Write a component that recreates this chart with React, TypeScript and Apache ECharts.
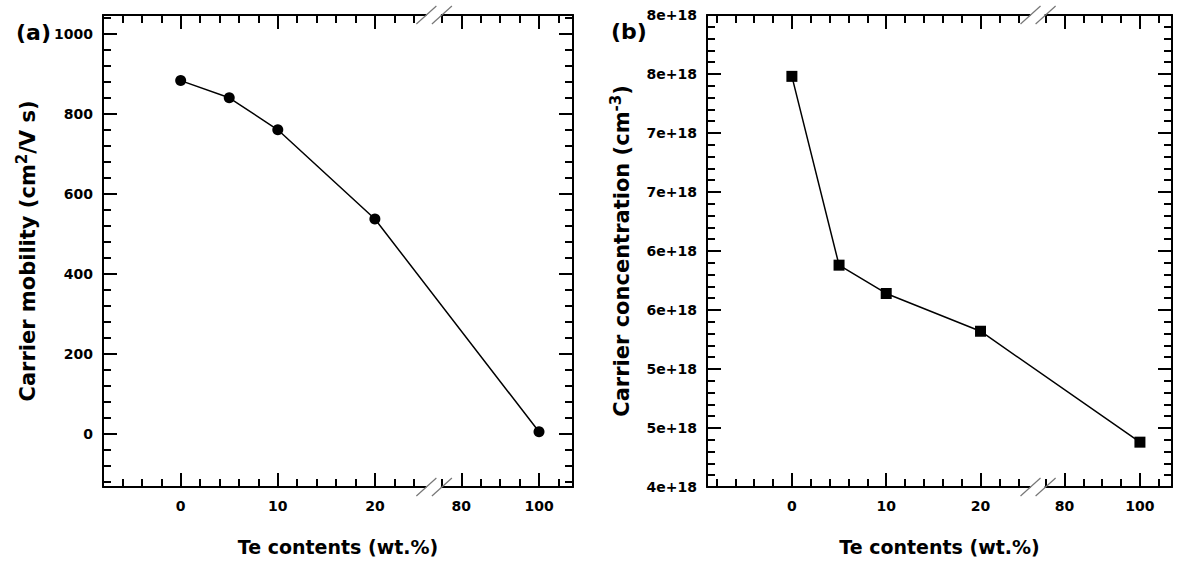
import React, { useEffect, useRef } from "react";
import * as echarts from "echarts";

// ---- data ----
const teContents = [0, 5, 10, 20, 100];
const mobility = [884, 841, 761, 538, 6];
const concentration = [7.48e18, 5.88e18, 5.64e18, 5.32e18, 4.38e18];

// ---- tick values ----
const xMajorTicks = [0, 10, 20, 80, 100];
const xMinorTicks = [-8, -6, -4, -2, 2, 4, 6, 8, 12, 14, 16, 18, 22, 24, 75, 85, 90, 95, 105];
const mobilityTicks = [0, 200, 400, 600, 800, 1000];
const mobilityMinorTicks = [
  -120, -80, -40, 40, 80, 120, 160, 240, 280, 320, 360, 440, 480, 520, 560, 640, 680, 720, 760,
  840, 880, 920, 960, 1040,
];
const concTicks = [4e18, 4.5e18, 5e18, 5.5e18, 6e18, 6.5e18, 7e18, 7.5e18, 8e18];
const concMinorTicks = [
  4.1e18, 4.2e18, 4.3e18, 4.4e18, 4.6e18, 4.7e18, 4.8e18, 4.9e18, 5.1e18, 5.2e18, 5.3e18, 5.4e18,
  5.6e18, 5.7e18, 5.8e18, 5.9e18, 6.1e18, 6.2e18, 6.3e18, 6.4e18, 6.6e18, 6.7e18, 6.8e18, 6.9e18,
  7.1e18, 7.2e18, 7.3e18, 7.4e18, 7.6e18, 7.7e18, 7.8e18, 7.9e18,
];

// ---- broken x axis: values >= 75 are compressed into the right segment ----
const SEG2_X0 = 80;
const SEG2_T0 = 28.9;
const SEG2_SCALE = 0.4;
const BREAK_START_X = 25.3;
const BREAK_END_X = 75;
const toT = (x: number) => (x <= 50 ? x : SEG2_T0 + (x - SEG2_X0) * SEG2_SCALE);
const fromT = (t: number) => (t <= 26 ? t : SEG2_X0 + (t - SEG2_T0) / SEG2_SCALE);

const FONT = "DejaVu Sans";

export default function App() {
  const ref = useRef<HTMLDivElement>(null);

  useEffect(() => {
    if (!ref.current) return;
    const chart = echarts.init(ref.current, null, { renderer: "svg" });

    const panels = [
      {
        grid: { left: 103, top: 15, width: 470, height: 472 },
        xMin: -8,
        xMax: 40.4,
        yMin: -132,
        yMax: 1048,
        yTicks: mobilityTicks,
        yMinor: mobilityMinorTicks,
        yFmt: (v: number) => String(Math.round(v)),
        yName: "{a|Carrier mobility (cm}{s|2}{a|/V s)}",
        yNameGap: 62,
        values: mobility,
        symbol: "circle",
      },
      {
        grid: { left: 707, top: 15, width: 465, height: 472 },
        xMin: -9,
        xMax: 40.3,
        yMin: 4e18,
        yMax: 8e18,
        yTicks: concTicks,
        yMinor: concMinorTicks,
        yFmt: (v: number) => Math.round(v / 1e18) + "e+18",
        yName: "{a|Carrier concentration (cm}{s|-3}{a|)}",
        yNameGap: 72,
        values: concentration,
        symbol: "rect",
      },
    ];

    const black = "#000";
    const grids: any[] = [];
    const xAxes: any[] = [];
    const yAxes: any[] = [];
    const series: any[] = [];

    const xMajorT = xMajorTicks.map(toT);
    const xMinorT = xMinorTicks.map(toT);

    panels.forEach((p, pi) => {
      grids.push(p.grid);
      const baseX = {
        type: "value",
        gridIndex: pi,
        min: p.xMin,
        max: p.xMax,
        splitLine: { show: false },
        axisPointer: { show: false },
      };
      const baseY = {
        type: "value",
        gridIndex: pi,
        min: p.yMin,
        max: p.yMax,
        splitLine: { show: false },
        axisPointer: { show: false },
      };
      const lineOn = { show: true, onZero: false, lineStyle: { color: black, width: 2 } };
      const lineOff = { show: false, onZero: false };
      const major = (vals: number[]) => ({
        show: true,
        inside: true,
        length: 14,
        customValues: vals,
        lineStyle: { color: black, width: 2 },
      });
      const minor = (vals: number[]) => ({
        show: true,
        inside: true,
        length: 8,
        customValues: vals,
        lineStyle: { color: black, width: 2 },
      });
      const noLabel = { show: false };

      xAxes.push({
        ...baseX,
        position: "bottom",
        axisLine: lineOn,
        axisTick: major(xMajorT),
        axisLabel: {
          show: true,
          customValues: xMajorT,
          formatter: (v: number) => String(Math.round(fromT(v))),
          margin: 12,
          color: black,
          fontFamily: FONT,
          fontWeight: "bold",
          fontSize: 14,
        },
        name: "Te contents (wt.%)",
        nameLocation: "middle",
        nameGap: 50,
        nameTextStyle: { color: black, fontFamily: FONT, fontWeight: "bold", fontSize: 19 },
      });
      xAxes.push({ ...baseX, position: "bottom", axisLine: lineOff, axisTick: minor(xMinorT), axisLabel: noLabel });
      xAxes.push({ ...baseX, position: "top", axisLine: lineOn, axisTick: major(xMajorT), axisLabel: noLabel });
      xAxes.push({ ...baseX, position: "top", axisLine: lineOff, axisTick: minor(xMinorT), axisLabel: noLabel });

      yAxes.push({
        ...baseY,
        position: "left",
        axisLine: lineOn,
        axisTick: major(p.yTicks),
        axisLabel: {
          show: true,
          customValues: p.yTicks,
          formatter: p.yFmt,
          margin: 10,
          color: black,
          fontFamily: FONT,
          fontWeight: "bold",
          fontSize: 14,
        },
        name: p.yName,
        nameLocation: "middle",
        nameGap: p.yNameGap,
        nameTextStyle: {
          color: black,
          fontFamily: FONT,
          fontWeight: "bold",
          fontSize: 21,
          rich: {
            a: { fontFamily: FONT, fontWeight: "bold", fontSize: 21, color: black, lineHeight: 27 },
            s: {
              fontFamily: FONT,
              fontWeight: "bold",
              fontSize: 15,
              color: black,
              verticalAlign: "top",
              lineHeight: 27,
            },
          },
        },
      });
      yAxes.push({ ...baseY, position: "left", axisLine: lineOff, axisTick: minor(p.yMinor), axisLabel: noLabel });
      yAxes.push({ ...baseY, position: "right", axisLine: lineOn, axisTick: major(p.yTicks), axisLabel: noLabel });
      yAxes.push({ ...baseY, position: "right", axisLine: lineOff, axisTick: minor(p.yMinor), axisLabel: noLabel });

      series.push({
        type: "line",
        xAxisIndex: pi * 4,
        yAxisIndex: pi * 4,
        data: teContents.map((x, i) => [toT(x), p.values[i]]),
        symbol: p.symbol,
        symbolSize: 11,
        lineStyle: { color: black, width: 1.5 },
        itemStyle: { color: black },
        z: 5,
      });
    });

    chart.setOption({
      animation: false,
      backgroundColor: "#fff",
      grid: grids,
      xAxis: xAxes,
      yAxis: yAxes,
      series,
    });

    const graphics: any[] = [];
    panels.forEach((p, pi) => {
      const xa = { xAxisIndex: pi * 4 } as any;
      const ya = { yAxisIndex: pi * 4 } as any;
      const xb = chart.convertToPixel(xa, toT(BREAK_START_X)) as unknown as number;
      const xe = chart.convertToPixel(xa, toT(BREAK_END_X)) as unknown as number;
      const yBottom = chart.convertToPixel(ya, p.yMin) as unknown as number;
      const yTop = chart.convertToPixel(ya, p.yMax) as unknown as number;
      [yBottom, yTop].forEach((yy) => {
        graphics.push({
          type: "rect",
          shape: { x: xb, y: yy - 3, width: xe - xb - 1, height: 6 },
          style: { fill: "#fff" },
          z: 100,
        });
        [xb, xe].forEach((cx) => {
          graphics.push({
            type: "line",
            shape: { x1: cx - 10, y1: yy + 9, x2: cx + 10, y2: yy - 9 },
            style: { stroke: "#777", lineWidth: 1.2 },
            z: 101,
          });
        });
      });
    });
    graphics.push({
      type: "text",
      left: 16,
      top: 21,
      style: { text: "(a)", fill: "#000", font: `bold 22px '${FONT}'` },
      z: 110,
    });
    graphics.push({
      type: "text",
      left: 611,
      top: 20,
      style: { text: "(b)", fill: "#000", font: `bold 22px '${FONT}'` },
      z: 110,
    });
    chart.setOption({ graphic: graphics });

    return () => chart.dispose();
  }, []);

  return (
    <div
      ref={ref}
      style={{ position: "fixed", left: 0, top: 0, width: 1181, height: 563, background: "#fff" }}
    />
  );
}
